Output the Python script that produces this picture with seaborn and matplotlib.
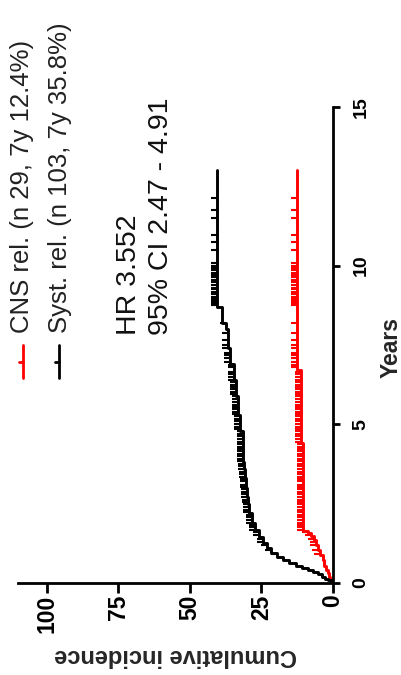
import numpy as np
import pandas as pd
import matplotlib
matplotlib.use("Agg")
import matplotlib.pyplot as plt
from matplotlib.lines import Line2D
from matplotlib.path import Path
import seaborn as sns

# ---------------- data ----------------
red_years = [0.05, 0.12, 0.2, 0.3, 0.42, 0.55, 0.72, 0.88, 1.04, 1.2, 1.36, 1.48, 1.58, 1.65, 4.4, 6.7]
red_inc = [0.4, 0.9, 1.4, 1.8, 2.4, 3.0, 3.5, 4.4, 5.3, 6.0, 6.7, 7.8, 8.8, 10.4, 11.2, 12.4]
red_end = 13.0

black_years = [0.03, 0.08, 0.13, 0.2, 0.27, 0.34, 0.41, 0.48, 0.55, 0.63, 0.72, 0.82, 0.95,
               1.1, 1.26, 1.45, 1.67, 1.9, 2.2, 2.5, 2.7, 3.0, 3.3, 3.6, 3.8, 4.2, 4.8, 5.3,
               5.9, 6.4, 6.9, 7.4, 8.0, 8.2, 8.7]
black_inc = [0.8, 1.8, 2.8, 4.0, 5.4, 7.0, 8.8, 10.8, 13.0, 15.3, 17.3, 19.6, 21.5,
             23.0, 24.4, 25.9, 27.3, 28.4, 29.3, 29.8, 30.1, 30.3, 30.6, 31.0, 31.3, 31.6, 32.5, 33.3,
             34.0, 34.7, 35.8, 36.6, 37.5, 38.6, 40.5]
black_end = 13.0

censor_years = [0.9, 1.05, 1.2, 1.3, 1.4, 1.5, 1.6, 1.68, 1.75, 1.83, 1.9, 2.0, 2.08, 2.15,
                2.23, 2.3, 2.4, 2.48, 2.55, 2.62, 2.7, 2.8, 2.88, 2.95, 3.03, 3.1, 3.2,
                3.28, 3.35, 3.42, 3.5, 3.6, 3.68, 3.75, 3.83, 3.9, 4.0, 4.08, 4.15, 4.23,
                4.3, 4.38, 4.45, 4.55, 4.62, 4.7, 4.78, 4.85, 4.93, 5.0, 5.1, 5.18, 5.25,
                5.33, 5.4, 5.48, 5.55, 5.62, 5.7, 5.8, 5.88, 5.95, 6.03, 6.1, 6.18, 6.25,
                6.33, 6.4, 6.5, 6.58, 6.65, 6.8, 6.88, 6.95, 7.1, 7.18, 7.25, 7.4, 7.5,
                7.65, 7.88, 8.19, 8.75, 8.82, 8.88, 8.95, 9.02, 9.1, 9.17, 9.25, 9.3,
                9.4, 9.5, 9.56, 9.63, 9.7, 9.78, 9.85, 9.92, 10.0, 10.08, 10.49, 10.76,
                10.97, 11.49, 11.75, 12.12]

series_labels = ["CNS rel. (n 29, 7y 12.4%)", "Syst. rel. (n 103, 7y 35.8%)"]
series_colors = ["#ff0000", "#000000"]
hr_lines = ["HR 3.552", "95% CI 2.47 - 4.91"]

inc_ticks = [0, 25, 50, 75, 100]
inc_ticklabels = ["0", "25", "50", "75", "100"]
year_ticks = [0, 5, 10, 15]
year_ticklabels = ["0", "5", "10", "15"]

# ---------------- figure ----------------
sns.set_theme(style="white")
plt.rcParams["font.family"] = ["Liberation Sans", "DejaVu Sans"]

W, H = 402, 675
fig = plt.figure(figsize=(W / 100, H / 100), dpi=100)
ax = fig.add_axes([18 / W, 1 - 583 / H, 315 / W, 476 / H])


def fpx(x, y):
    return x / W, 1 - y / H


def curve_frame(years, inc, end):
    yy = [0.0] + list(years) + [end]
    xx = [0.0] + list(inc) + [inc[-1]]
    return pd.DataFrame({"inc": xx, "years": yy})


tick_path = Path([[0, 0], [-1, 0]])

for yrs, inc, end, col in [(red_years, red_inc, red_end, series_colors[0]),
                           (black_years, black_inc, black_end, series_colors[1])]:
    df = curve_frame(yrs, inc, end)
    sns.lineplot(data=df, x="inc", y="years", sort=False, estimator=None,
                 drawstyle="steps-pre", color=col, lw=2.1, ax=ax)
    cy = np.array([c for c in censor_years if c <= end])
    idx = np.searchsorted(np.array(yrs), cy, side="right") - 1
    cx = np.where(idx >= 0, np.array(inc)[np.clip(idx, 0, None)], 0.0)
    ax.plot(cx, cy, linestyle="none", marker=tick_path, markersize=8,
            markeredgewidth=1.5, color=col)

ax.set_xlim(110, 0)
ax.set_ylim(0, 15)

for s in ["top", "left"]:
    ax.spines[s].set_visible(False)
for s in ["bottom", "right"]:
    ax.spines[s].set_linewidth(2.0)
    ax.spines[s].set_color("black")

ax.yaxis.tick_right()
ax.set_xticks(inc_ticks)
ax.set_xticklabels(inc_ticklabels, rotation=90, fontsize=16.5, fontweight="bold")
ax.set_yticks(year_ticks)
ax.set_yticklabels(year_ticklabels, rotation=90, fontsize=14, va="center", fontweight="bold")
ax.tick_params(axis="x", bottom=True, length=7.2, width=2.0, pad=1, colors="black")
ax.tick_params(axis="y", right=True, left=False, length=5, width=2.0, pad=9, colors="black")

ax.set_xlabel("Cumulative incidence", rotation=180, fontsize=17, fontweight="bold")
ax.xaxis.set_label_coords(0.5, -0.128)
ax.yaxis.set_label_position("right")
ax.set_ylabel("Years", rotation=90, fontsize=16.5, fontweight="bold")
ax.yaxis.set_label_coords(1.149, 0.494)
ax.grid(False)

# legend (drawn rotated like the rest of the picture)
for (lx, tx), lab, col in zip([(23, 22), (59, 60)], series_labels, series_colors):
    x0, y0 = fpx(lx, 345)
    x1, y1 = fpx(lx, 378)
    fig.add_artist(Line2D([x0, x1], [y0, y1], color=col, lw=2.0, transform=fig.transFigure))
    a0, b0 = fpx(lx, 362)
    a1, b1 = fpx(lx - 4, 362)
    fig.add_artist(Line2D([a0, a1], [b0, b1], color=col, lw=2.0, transform=fig.transFigure))
    px_, py_ = fpx(tx, 333)
    fig.text(px_, py_, lab, rotation=90, ha="center", va="bottom", fontsize=18.5, color="#222222")

for tx, txt in zip([129, 161], hr_lines):
    px_, py_ = fpx(tx, 335)
    fig.text(px_, py_, txt, rotation=90, ha="center", va="bottom", fontsize=20.5, color="#111111")

fig.savefig("out.png", dpi=100)
